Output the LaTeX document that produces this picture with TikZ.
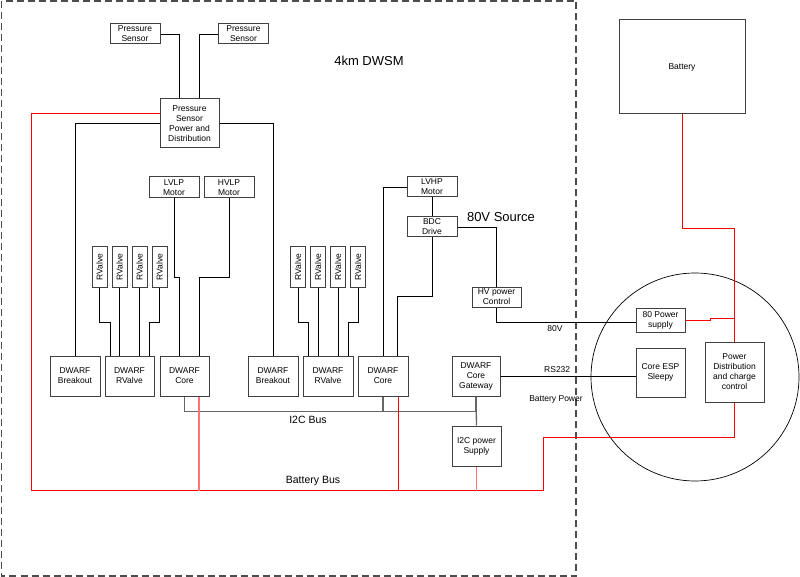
\documentclass[tikz,border=0pt]{standalone}
\usepackage{fontspec}
\setmainfont{Liberation Sans}
\usepackage{graphicx}
\newcommand\boxfont{\fontsize{8.5}{10}\selectfont}
\newcommand\busfont{\fontsize{10.5}{12}\selectfont}
\newcommand\bigfont{\fontsize{13}{15}\selectfont}
\tikzset{
    blk/.style={draw=black!75, line width=1pt, align=center, inner sep=0pt, font=\boxfont},
    wire/.style={black, line width=0.8pt},
    bus/.style={black!60, line width=1.3pt},
    pwr/.style={red, line width=1pt},
    pwrlite/.style={red!55, line width=1.2pt}
}
\begin{document}
\begin{tikzpicture}[x=1pt,y=-1pt]
    \useasboundingbox (0,0) rectangle (800,577);

    % Module boundary
    \draw[black!70, line width=1.3pt, dash pattern=on 7pt off 4pt] (1.5,1) rectangle (576,576);
    \node[font=\bigfont] (title) at (369,61) {4km DWSM};
    \node[font=\bigfont] (src) at (501,217) {80V Source};

    % Pressure sensors
    \node[blk, minimum width=50pt, minimum height=20pt] (ps1) at (135,34) {Pressure\\Sensor};
    \node[blk, minimum width=50pt, minimum height=20pt] (ps2) at (243.5,34) {Pressure\\Sensor};
    \node[blk, minimum width=59pt, minimum height=49pt] (pspd) at (189.5,123.5) {Pressure\\Sensor\\Power and\\Distribution};

    % Motors
    \node[blk, minimum width=50pt, minimum height=21pt] (lvlp) at (174,187.5) {LVLP\\Motor};
    \node[blk, minimum width=50pt, minimum height=21pt] (hvlp) at (229,187.5) {HVLP\\Motor};
    \node[blk, minimum width=50pt, minimum height=20pt] (lvhp) at (432,187) {LVHP\\Motor};
    \node[blk, minimum width=50pt, minimum height=20pt] (bdc) at (432,227) {BDC\\Drive};
    \node[blk, minimum width=49pt, minimum height=20pt] (hvpc) at (496.5,297) {HV power\\Control};

    % RValves
    \foreach \n/\x in {1/99.5, 2/119.5, 3/139.5, 4/159.5, 5/298, 6/318, 7/338, 8/358}
        \node[blk, minimum width=15pt, minimum height=40pt] (rv\n) at (\x,267) {\rotatebox{90}{RValve}};

    % DWARF row
    \node[blk, minimum width=50pt, minimum height=40pt] (brk1) at (75,376) {DWARF\\Breakout};
    \node[blk, minimum width=49pt, minimum height=40pt] (drv1) at (129.5,376) {DWARF\\RValve};
    \node[blk, minimum width=49pt, minimum height=40pt] (core1) at (184.5,376) {DWARF\\Core};
    \node[blk, minimum width=50pt, minimum height=40pt] (brk2) at (273,376) {DWARF\\Breakout};
    \node[blk, minimum width=50pt, minimum height=40pt] (drv2) at (328,376) {DWARF\\RValve};
    \node[blk, minimum width=50pt, minimum height=40pt] (core2) at (383,376) {DWARF\\Core};
    \node[blk, minimum width=48pt, minimum height=40pt] (gw) at (476,376) {DWARF\\Core\\Gateway};
    \node[blk, minimum width=49pt, minimum height=40pt] (i2cps) at (476.5,446) {I2C power\\Supply};

    % Surface side
    \node[blk, minimum width=126pt, minimum height=94pt] (bat) at (682,67) {Battery};
    \node[draw=black, line width=0.7pt, circle, minimum size=208pt, inner sep=0pt] (esm) at (695,377) {};
    \node[blk, minimum width=49pt, minimum height=24pt] (ps80) at (660.5,320) {80 Power\\supply};
    \node[blk, minimum width=49pt, minimum height=49pt] (esp) at (660.5,372.5) {Core ESP\\Sleepy};
    \node[blk, minimum width=59pt, minimum height=60pt] (pdcc) at (734.5,372) {Power\\Distribution\\and charge\\control};

    % Signal wiring
    \draw[wire] (ps1.east) -| ([xshift=-10.5pt]pspd.north);
    \draw[wire] (ps2.west) -| ([xshift=9.5pt]pspd.north);
    \draw[wire] (pspd.west) -| (brk1.north);
    \draw[wire] (pspd.east) -| (brk2.north);
    \draw[wire] (lvlp.south) -- ++(0,79) -| ([xshift=-5.5pt]core1.north);
    \draw[wire] (hvlp.south) -- ++(0,79) -| ([xshift=14.5pt]core1.north);
    \draw[wire] (rv1.south) -- ++(0,35) -| ([xshift=-19.5pt]drv1.north);
    \draw[wire] (rv2.south) -- (rv2.south |- drv1.north);
    \draw[wire] (rv3.south) -- (rv3.south |- drv1.north);
    \draw[wire] (rv4.south) -- ++(0,35) -| ([xshift=19.5pt]drv1.north);
    \draw[wire] (rv5.south) -- ++(0,35) -| ([xshift=-20pt]drv2.north);
    \draw[wire] (rv6.south) -- (rv6.south |- drv2.north);
    \draw[wire] (rv7.south) -- (rv7.south |- drv2.north);
    \draw[wire] (rv8.south) -- ++(0,35) -| ([xshift=20pt]drv2.north);
    \draw[wire] (lvhp.west) -| (core2.north);
    \draw[wire] (lvhp.south) -- (bdc.north);
    \draw[wire] (bdc.south) -- ++(0,59) -| ([xshift=14pt]core2.north);
    \draw[wire] (bdc.east) -| (hvpc.north);
    \draw[wire] (hvpc.south) |- node[pos=0.71, below, font=\boxfont] (l80) {80V} ([yshift=-2pt]ps80.west);
    \draw[wire] (gw.east) -- node[pos=0.42, above, font=\boxfont] (lrs) {RS232} ([yshift=-3.5pt]esp.west);

    % I2C bus
    \draw[bus] (core1.south) -- ++(0,15) -| (gw.south);
    \draw[bus] (core2.south) -- ++(0,15);
    \draw[bus] (gw.south) -- (i2cps.north);
    \node[font=\busfont] (li2c) at (308,420) {I2C Bus};

    % Battery bus
    \coordinate (bbL) at (31,490);
    \coordinate (bbR) at (543,490);
    \draw[pwr] ([yshift=10pt]pspd.west) -| (bbL) -- (bbR) -- ++(0,-53) -| (pdcc.south);
    \draw[pwrlite] ([xshift=14.5pt]core1.south) -- ++(0,94);
    \draw[pwr] ([xshift=15pt]core2.south) -- ++(0,94);
    \draw[pwrlite] (i2cps.south) -- ++(0,24);
    \draw[pwr] (bat.south) -- ++(0,114) -| (pdcc.north);
    \draw[pwr] (ps80.east) -- ++(25,0) -- ++(0,-2) -- ++(24.5,0);
    \node[font=\busfont] (lbb) at (313,481) {Battery Bus};
    \node[font=\boxfont] (lbp) at (556,399) {Battery Power};
\end{tikzpicture}
\end{document}
